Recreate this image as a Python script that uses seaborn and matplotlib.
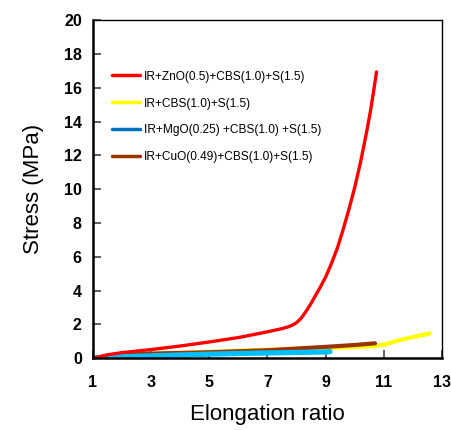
import matplotlib
matplotlib.use("Agg")
import matplotlib.pyplot as plt
from matplotlib.lines import Line2D
import pandas as pd
import seaborn as sns

# values
znO_x = [1, 1.5, 2, 3, 4, 5, 6, 7, 7.5, 7.7, 7.85, 8.0, 8.15, 8.3, 8.45,
         8.6, 8.8, 9.0, 9.2, 9.4, 9.6, 9.8, 10.0, 10.2, 10.4, 10.55, 10.65, 10.75]
znO_y = [0, 0.2, 0.33, 0.51, 0.72, 0.96, 1.22, 1.56, 1.75, 1.85, 1.95, 2.1,
         2.35, 2.7, 3.1, 3.55, 4.15, 4.8, 5.6, 6.5, 7.6, 8.8, 10.1, 11.6,
         13.3, 14.7, 15.8, 16.94]

cbs_x = [1, 2, 3, 5, 7, 9, 10, 10.63, 11, 11.55, 12, 12.58]
cbs_y = [0, 0.15, 0.25, 0.38, 0.5, 0.6, 0.66, 0.71, 0.8, 1.07, 1.25, 1.46]

mgo_x = [1, 1.5, 2, 3, 4, 5, 6, 7, 8, 9, 9.15]
mgo_y = [0, 0.05, 0.09, 0.14, 0.19, 0.24, 0.28, 0.31, 0.34, 0.37, 0.39]

cuo_x = [1, 1.5, 2, 3, 4, 5, 6, 7, 8, 9, 10, 10.7]
cuo_y = [0, 0.12, 0.2, 0.27, 0.31, 0.35, 0.41, 0.47, 0.57, 0.67, 0.78, 0.88]

labels = [
    "IR+ZnO(0.5)+CBS(1.0)+S(1.5)",
    "IR+CBS(1.0)+S(1.5)",
    "IR+MgO(0.25) +CBS(1.0) +S(1.5)",
    "IR+CuO(0.49)+CBS(1.0)+S(1.5)",
]
legend_colors = ["#ff0000", "#ffff00", "#0070c0", "#993300"]
line_colors = ["#ff0000", "#ffff00", "#00bfff", "#993300"]
line_widths = [2.4, 3.0, 3.8, 3.0]

sns.set_style("white", {"xtick.bottom": True, "ytick.left": True,
                        "text.color": "black", "axes.labelcolor": "black",
                        "xtick.color": "black", "ytick.color": "black"})
plt.rcParams["font.family"] = ["Liberation Sans", "DejaVu Sans"]

fig = plt.figure(figsize=(4.51, 4.30), dpi=100)
ax = fig.add_axes([0.206, 0.167, 0.774, 0.786])

series = [(znO_x, znO_y), (cbs_x, cbs_y), (mgo_x, mgo_y), (cuo_x, cuo_y)]
# draw order: yellow first, then cyan, brown, red on top
for i in [1, 3, 2, 0]:
    xs, ys = series[i]
    df = pd.DataFrame({"x": xs, "y": ys})
    sns.lineplot(data=df, x="x", y="y", ax=ax, color=line_colors[i],
                 linewidth=line_widths[i], sort=False, estimator=None)

ax.set_xlim(1, 13)
ax.set_ylim(0, 20)
ax.set_xticks([1, 3, 5, 7, 9, 11, 13])
ax.set_yticks(range(0, 21, 2))
ax.tick_params(bottom=True, left=True, direction="in", length=6, width=1.2,
               color="#444444", labelcolor="black", labelsize=11.5, pad=12)
ax.tick_params(axis="y", pad=8)
for lab in ax.get_xticklabels() + ax.get_yticklabels():
    lab.set_fontweight("bold")

for sp in ax.spines.values():
    sp.set_color("black")
    sp.set_linewidth(1.0)
ax.spines["left"].set_linewidth(1.8)
ax.spines["bottom"].set_linewidth(1.8)

ax.set_xlabel("Elongation ratio", fontsize=16, labelpad=10, color="black")
ax.set_ylabel("Stress (MPa)", fontsize=16, labelpad=14, color="black")

handles = [Line2D([0], [0], color=c, linewidth=2.5) for c in legend_colors]
leg = ax.legend(handles, labels, loc="upper left", bbox_to_anchor=(0.04, 0.865),
                frameon=False, fontsize=8.6, handlelength=2.4,
                handletextpad=0.3, labelspacing=1.25, borderaxespad=0)
for t in leg.get_texts():
    t.set_color("black")

fig.savefig("out.png", dpi=100)
